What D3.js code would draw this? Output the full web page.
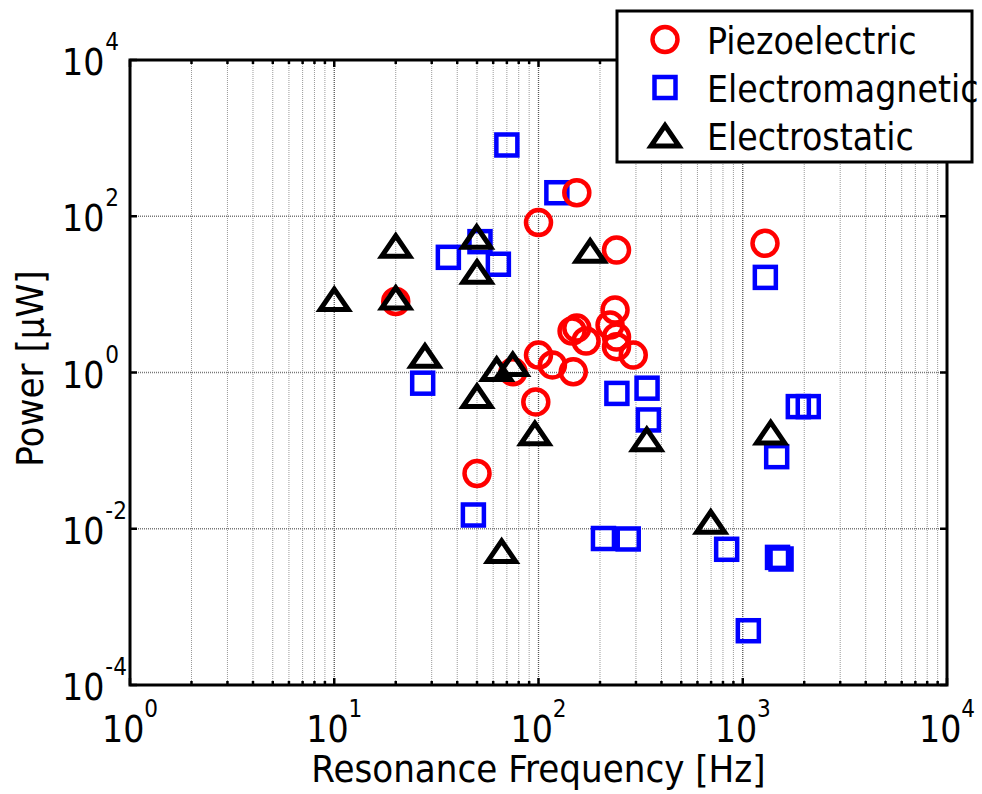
<!DOCTYPE html>
<html>
<head>
<meta charset="utf-8">
<script src="https://cdn.jsdelivr.net/npm/d3@7"></script>
<style>
body { margin: 0; background: #fff; }
svg text { font-family: "DejaVu Sans Condensed", "DejaVu Sans", sans-serif; font-stretch: condensed; fill: #000; }
</style>
</head>
<body>
<svg width="982" height="794"></svg>
<script>
// values (Hz, microwatt)
var piezoFreq  = [154, 100, 241, 1285, 20, 146, 154, 171, 237, 224, 241, 241, 291, 100, 117, 148, 97, 75, 50];
var piezoPower = [200, 83, 37, 45, 8.1, 3.4, 3.7, 2.53, 6.3, 4.06, 2.85, 2.14, 1.67, 1.67, 1.25, 1.02, 0.42, 1.02, 0.051];

var emFreq  = [70, 123, 36.2, 51.7, 63.6, 27.1, 1290, 1871, 2093, 1466, 48, 208, 275, 242, 340, 345, 834, 1480, 1540, 1065];
var emPower = [817, 200, 29.8, 47.3, 24.3, 0.73, 16.5, 0.366, 0.366, 0.0837, 0.015, 0.0075, 0.0074, 0.54, 0.63, 0.247, 0.00546, 0.0043, 0.0041, 0.000495];

var esFreq  = [10, 20, 20, 27.8, 49.8, 50, 50, 62.4, 74.8, 179, 96, 339, 1370, 697, 66];
var esPower = [8.7, 41.9, 9.1, 1.64, 54.7, 19.5, 0.50, 1.11, 1.28, 36.2, 0.167, 0.14, 0.171, 0.0123, 0.0052];

var seriesNames = ['Piezoelectric', 'Electromagnetic', 'Electrostatic'];
var xTickExp = [0, 1, 2, 3, 4];
var yTickExp = [-4, -2, 0, 2, 4];

// plot box (window.top is read-only, so own names)
var pLeft = 130, pRight = 947, pTop = 60, pBottom = 685;

var svg = d3.select('svg');
var x = d3.scaleLog().domain([1, 1e4]).range([pLeft, pRight]);
var y = d3.scaleLog().domain([1e-4, 1e4]).range([pBottom, pTop]);

// minor x positions 2..9 x 10^k
var xMinor = [];
for (var k = 0; k < 4; k++) {
  for (var m = 2; m < 10; m++) xMinor.push(m * Math.pow(10, k));
}
var xMajor = xTickExp.map(function(e){ return Math.pow(10, e); });
var yMajor = yTickExp.map(function(e){ return Math.pow(10, e); });

var grid = svg.append('g');
grid.selectAll(null).data(xMinor).enter().append('line')
  .attr('x1', function(d){ return x(d); }).attr('x2', function(d){ return x(d); })
  .attr('y1', pTop).attr('y2', pBottom)
  .style('stroke', '#999').style('stroke-width', 1).style('stroke-dasharray', '1,1');
grid.selectAll(null).data(xMajor.slice(1, -1)).enter().append('line')
  .attr('x1', function(d){ return x(d); }).attr('x2', function(d){ return x(d); })
  .attr('y1', pTop).attr('y2', pBottom)
  .style('stroke', '#555').style('stroke-width', 1.3).style('stroke-dasharray', '1,1');
grid.selectAll(null).data(yMajor.slice(1, -1)).enter().append('line')
  .attr('x1', pLeft).attr('x2', pRight)
  .attr('y1', function(d){ return y(d); }).attr('y2', function(d){ return y(d); })
  .style('stroke', '#777').style('stroke-width', 1.3).style('stroke-dasharray', '1,1');

// inward ticks
var ticks = svg.append('g').style('stroke', '#000').style('stroke-width', 2.5);
[[pBottom, -1], [pTop, 1]].forEach(function(p){
  ticks.selectAll(null).data(xMajor).enter().append('line')
    .attr('x1', function(d){ return x(d); }).attr('x2', function(d){ return x(d); })
    .attr('y1', p[0]).attr('y2', p[0] + p[1] * 7);
  ticks.selectAll(null).data(xMinor).enter().append('line')
    .attr('x1', function(d){ return x(d); }).attr('x2', function(d){ return x(d); })
    .attr('y1', p[0]).attr('y2', p[0] + p[1] * 4);
});
[[pLeft, 1], [pRight, -1]].forEach(function(p){
  ticks.selectAll(null).data(yMajor).enter().append('line')
    .attr('y1', function(d){ return y(d); }).attr('y2', function(d){ return y(d); })
    .attr('x1', p[0]).attr('x2', p[0] + p[1] * 7);
});

// tick labels 10^n
var xl = svg.append('g').selectAll('text').data(xTickExp).enter().append('text')
  .attr('x', function(d){ return x(Math.pow(10, d)); })
  .attr('y', 742)
  .attr('text-anchor', 'middle')
  .style('font-size', '37px');
xl.append('tspan').text('10');
xl.append('tspan').attr('dy', -25).style('font-size', '24px').text(function(d){ return d; });

var yl = svg.append('g').selectAll('text').data(yTickExp).enter().append('text')
  .attr('x', 62)
  .attr('y', function(d){ return y(Math.pow(10, d)) + 15; })
  .style('font-size', '37px');
yl.append('tspan').text('10');
yl.append('tspan').attr('dy', -25).attr('dx', 1).style('font-size', '24px').text(function(d){ return d < 0 ? '-' + (-d) : d; });

// axis box
svg.append('rect').attr('x', pLeft).attr('y', pTop).attr('width', pRight - pLeft).attr('height', pBottom - pTop)
  .style('fill', 'none').style('stroke', '#000').style('stroke-width', 3);

// axis titles
svg.append('text').attr('x', (pLeft + pRight) / 2).attr('y', 782).attr('text-anchor', 'middle')
  .style('font-size', '38px').text('Resonance Frequency [Hz]');
svg.append('text').attr('transform', 'translate(43,' + ((pTop + pBottom) / 2 - 4) + ') rotate(-90)')
  .attr('text-anchor', 'middle').style('font-size', '38px').text('Power [\u03bcW]');

// marker drawing
var triPath = 'M0,-10L14,10.5L-14,10.5Z';
var drawCircle = function(g){ g.append('circle').attr('r', 12.5).style('fill', 'none').style('stroke', '#ff0000').style('stroke-width', 4.5); };
var drawSquare = function(g){ g.append('rect').attr('x', -10.5).attr('y', -10.5).attr('width', 21).attr('height', 21).style('fill', 'none').style('stroke', '#0000ff').style('stroke-width', 4.5); };
var drawTri = function(g){ g.append('path').attr('d', triPath).style('fill', 'none').style('stroke', '#000').style('stroke-width', 5).style('stroke-linejoin', 'miter'); };

var pairs = function(fs, ps){ return fs.map(function(f, i){ return [f, ps[i]]; }); };

var plotSeries = function(data, draw){
  svg.append('g').selectAll('g').data(data).enter().append('g')
    .attr('transform', function(d){ return 'translate(' + x(d[0]) + ',' + y(d[1]) + ')'; })
    .each(function(){ draw(d3.select(this)); });
};
plotSeries(pairs(emFreq, emPower), drawSquare);
plotSeries(pairs(piezoFreq, piezoPower), drawCircle);
plotSeries(pairs(esFreq, esPower), drawTri);

// legend
var lg = svg.append('g');
lg.append('rect').attr('x', 617).attr('y', 11).attr('width', 355).attr('height', 151)
  .style('fill', '#fff').style('stroke', '#000').style('stroke-width', 3);
var rowY = [39.5, 87.5, 135.5];
var drawers = [drawCircle, drawSquare, drawTri];
seriesNames.forEach(function(name, i){
  var g = lg.append('g').attr('transform', 'translate(665,' + rowY[i] + ')');
  drawers[i](g);
  lg.append('text').attr('x', 707).attr('y', rowY[i] + 14).style('font-size', '37px').text(name);
});
</script>
</body>
</html>
